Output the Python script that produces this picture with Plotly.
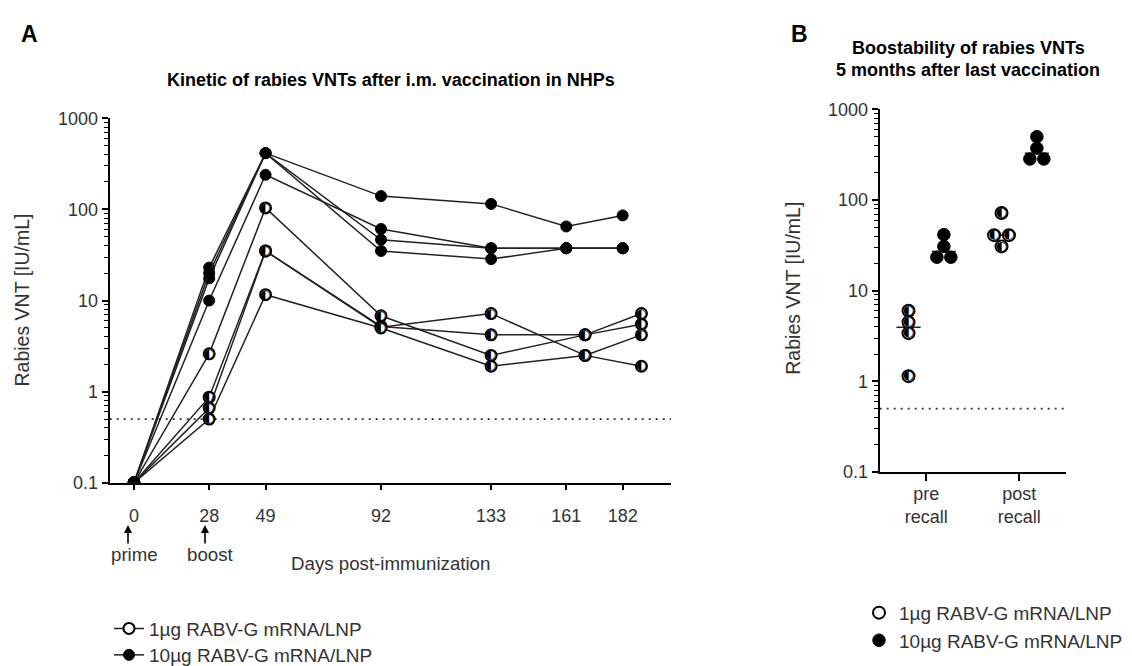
import numpy as np
import plotly.graph_objects as go

W, H = 1132, 666

# ---------------- DATA ----------------
# Panel A: kinetics (days post-immunization)
days_10ug = [0, 28, 49, 92, 133, 161, 182]
days_1ug = [0, 28, 49, 92, 133, 168, 189]
x_tick_days = [0, 28, 49, 92, 133, 161, 182]

vnt_10ug_nhp1 = [0.1, 23, 415, 140, 115, 65, 86]
vnt_10ug_nhp2 = [0.1, 10, 240, 61, 37.5, 37.5, 37.5]
vnt_10ug_nhp3 = [0.1, 17.5, 415, 46.5, 37.5, 37.5, 37.5]
vnt_10ug_nhp4 = [0.1, 20, 415, 35, 28.5, 37.5, 37.5]

vnt_1ug_nhp1 = [0.1, 2.6, 104, 6.8, 2.5, 4.2, 7.2]
vnt_1ug_nhp2 = [0.1, 0.87, 35, 5.1, 7.2, 2.5, 1.9]
vnt_1ug_nhp3 = [0.1, 0.66, 35, 5.2, 4.2, 4.2, 5.5]
vnt_1ug_nhp4 = [0.1, 0.5, 11.6, 5.0, 1.9, 2.5, 4.2]

lloq = 0.5

y_tick_vals = [0.1, 1, 10, 100, 1000]
y_tick_text = ["0.1", "1", "10", "100", "1000"]

# Panel B: boostability
b_categories = ["pre<br>recall", "post<br>recall"]
pre_1ug = [6.0, 4.5, 3.4, 1.14]
pre_10ug = [41.5, 30.8, 23.4, 23.4]
post_1ug = [72, 41, 41, 30.8]
post_10ug = [500, 374, 284, 284]

# ---------------- LAYOUT HELPERS ----------------
def px(x):
    return x / W

def py(y):
    return 1 - y / H

FONT = "Liberation Sans, Arial, sans-serif"
TXT = "#333333"
LINE = "#222222"
HALF_GLYPH = "\u25D0"

# group offsets and swarm offsets (category units) for panel B
grp_off_1ug = -0.19
grp_off_10ug = 0.19
swarm_pre_1ug = [0, 0, 0, 0]
swarm_pre_10ug = [0, 0, -0.075, 0.075]
swarm_post_1ug = [0, -0.08, 0.08, 0]
swarm_post_10ug = [0, 0, -0.075, 0.075]
med_half = 0.13

ring_marker = lambda size: dict(symbol="circle", size=size, color="white",
                                line=dict(color="black", width=2))
full_marker = lambda size: dict(symbol="circle", size=size, color="black",
                                line=dict(color="black", width=1))

def half_fill(x, y, size, xa, ya):
    # left-half-black glyph drawn on top of the white ring markers
    return go.Scatter(x=x, y=y, mode="text", text=[HALF_GLYPH] * len(y),
                      textposition="middle center",
                      textfont=dict(family="DejaVu Sans", size=size, color="black"),
                      xaxis=xa, yaxis=ya, showlegend=False, hoverinfo="skip")

fig = go.Figure()

# ---------------- PANEL A ----------------
xa_range = [-9.05, 200]
fig.add_trace(go.Scatter(x=xa_range, y=[lloq, lloq], mode="lines",
                         line=dict(color="#333", width=1.7, dash="2px,5px"),
                         xaxis="x", yaxis="y", showlegend=False, hoverinfo="skip"))

for i, vals in enumerate([vnt_1ug_nhp1, vnt_1ug_nhp2, vnt_1ug_nhp3, vnt_1ug_nhp4]):
    fig.add_trace(go.Scatter(x=days_1ug, y=vals, mode="lines+markers",
                             line=dict(color=LINE, width=1.5),
                             marker=ring_marker(11),
                             xaxis="x", yaxis="y",
                             name="1µg RABV-G mRNA/LNP",
                             showlegend=(i == 0), legend="legend"))
    fig.add_trace(half_fill(days_1ug, vals, 12, "x", "y"))

for i, vals in enumerate([vnt_10ug_nhp1, vnt_10ug_nhp2, vnt_10ug_nhp3, vnt_10ug_nhp4]):
    fig.add_trace(go.Scatter(x=days_10ug, y=vals, mode="lines+markers",
                             line=dict(color=LINE, width=1.5),
                             marker=full_marker(11),
                             xaxis="x", yaxis="y",
                             name="10µg RABV-G mRNA/LNP",
                             showlegend=(i == 0), legend="legend2"))

# ---------------- PANEL B ----------------
fig.add_trace(go.Scatter(x=[-0.5, 1.5], y=[lloq, lloq], mode="lines",
                         line=dict(color="#333", width=1.7, dash="2px,5px"),
                         xaxis="x2", yaxis="y2", showlegend=False, hoverinfo="skip"))

groups = [
    (0, grp_off_1ug, pre_1ug, swarm_pre_1ug, "half"),
    (0, grp_off_10ug, pre_10ug, swarm_pre_10ug, "full"),
    (1, grp_off_1ug, post_1ug, swarm_post_1ug, "half"),
    (1, grp_off_10ug, post_10ug, swarm_post_10ug, "full"),
]
shown = set()
for cat, off, vals, sw, kind in groups:
    xc = cat + off
    med = float(np.median(vals))
    fig.add_trace(go.Scatter(x=[xc - med_half, xc + med_half], y=[med, med], mode="lines",
                             line=dict(color=LINE, width=1.5),
                             xaxis="x2", yaxis="y2", showlegend=False, hoverinfo="skip"))
    name = "1µg RABV-G mRNA/LNP" if kind == "half" else "10µg RABV-G mRNA/LNP"
    xs = [xc + s for s in sw]
    fig.add_trace(go.Scatter(x=xs, y=vals, mode="markers",
                             marker=ring_marker(12) if kind == "half" else full_marker(12.5),
                             xaxis="x2", yaxis="y2", name=name,
                             showlegend=(kind not in shown),
                             legend="legend3" if kind == "half" else "legend4"))
    if kind == "half":
        fig.add_trace(half_fill(xs, vals, 13, "x2", "y2"))
    shown.add(kind)

# ---------------- AXES ----------------
minor_vals = [k * 10.0 ** e for e in range(-1, 3) for k in range(2, 10)]

common_y = dict(type="log", showgrid=False, zeroline=False, showline=True,
                linecolor="black", linewidth=2, ticks="outside", ticklen=6,
                tickwidth=1.5, tickcolor="black", tickmode="array",
                tickvals=y_tick_vals, ticktext=y_tick_text,
                tickfont=dict(family=FONT, size=18, color=TXT),
                minor=dict(tickmode="array", tickvals=minor_vals, ticks="outside",
                           ticklen=3.5, tickwidth=1.2, tickcolor="black", showgrid=False),
                range=[-1, 3], automargin=False)

fig.update_layout(
    xaxis=dict(domain=[px(101.7), px(663)], range=xa_range, anchor="y",
               showgrid=False, zeroline=False, showline=True, linecolor="black",
               linewidth=2, ticks="outside", ticklen=5, tickwidth=1.5,
               tickcolor="black", tickmode="array", tickvals=x_tick_days,
               ticktext=[str(d) for d in x_tick_days],
               tickfont=dict(family=FONT, size=18, color=TXT),
               ticklabelstandoff=11, automargin=False),
    yaxis=dict(domain=[py(482), py(112)], anchor="x", **common_y),
    xaxis2=dict(domain=[px(871.7), px(1057.7)], range=[-0.5, 1.5], anchor="y2",
                showgrid=False, zeroline=False, showline=True, linecolor="black",
                linewidth=2, ticks="outside", ticklen=7, tickwidth=2,
                tickcolor="black", tickmode="array", tickvals=[0, 1],
                ticktext=b_categories,
                tickfont=dict(family=FONT, size=18, color=TXT),
                ticklabelstandoff=-3, automargin=False),
    yaxis2=dict(domain=[py(471), py(103)], anchor="x2", **common_y),
)

legend_common = dict(bgcolor="rgba(0,0,0,0)", borderwidth=0,
                     font=dict(family=FONT, size=19, color=TXT),
                     xanchor="left", yanchor="middle", itemclick=False,
                     itemdoubleclick=False)
fig.update_layout(
    legend=dict(x=px(101), y=py(630), **legend_common),
    legend2=dict(x=px(101), y=py(657), **legend_common),
    legend3=dict(x=px(851), y=py(614), **legend_common),
    legend4=dict(x=px(851), y=py(642), **legend_common),
)

# ---------------- ANNOTATIONS ----------------
ann = []
def text(x, y, s, size=18, bold=False, color=TXT, angle=0, xanchor="center"):
    ann.append(dict(x=px(x), y=py(y), xref="paper", yref="paper", text=s,
                    showarrow=False, xanchor=xanchor, yanchor="middle",
                    textangle=angle,
                    font=dict(family=FONT, size=size, color=color)))

text(21, 26, "<b>A</b>", size=23, color="black")
text(791, 26, "<b>B</b>", size=23, color="black")
text(383, 73, "<b>Kinetic of rabies VNTs after i.m. vaccination in NHPs</b>", size=18, color="black")
text(960, 41, "<b>Boostability of rabies VNTs</b>", size=18, color="black")
text(960, 63, "<b>5 months after last vaccination</b>", size=18, color="black")
text(14, 297, "Rabies VNT [IU/mL]", size=19.5, angle=-90)
text(785, 285, "Rabies VNT [IU/mL]", size=19.5, angle=-90)
text(382, 564, "Days post-immunization", size=18.7)
text(126, 555, "prime", size=18.7)
text(202, 555, "boost", size=18.7)

for ax_x in [120, 197]:
    ann.append(dict(x=px(ax_x), y=py(525), xref="paper", yref="paper", text="",
                    showarrow=True, ax=0, ay=20, arrowhead=2, arrowsize=1,
                    arrowwidth=1.6, arrowcolor="black"))

fig.update_layout(
    annotations=ann,
    width=W, height=H,
    margin=dict(l=0, r=0, t=0, b=0),
    paper_bgcolor="white", plot_bgcolor="white",
    template="none",
    font=dict(family=FONT, color=TXT),
)

fig.write_html("out.html")
